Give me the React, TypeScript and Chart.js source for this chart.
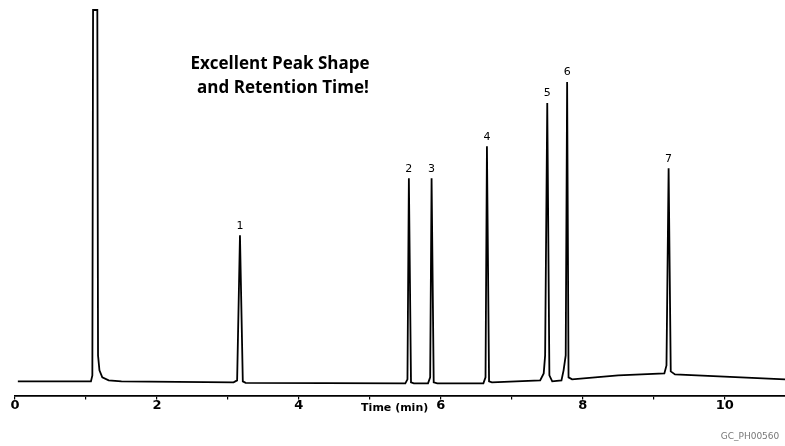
import React, { useEffect, useRef } from "react";
import { Chart, registerables } from "chart.js";

Chart.register(...registerables);

// Retention time (min) and detector signal (arbitrary units)
const times = [
  0.04, 1.07, 1.09, 1.1, 1.16, 1.17, 1.19, 1.23, 1.32, 1.5,
  3.08, 3.13, 3.17, 3.21, 3.25,
  5.5, 5.53, 5.55, 5.58, 5.62,
  5.82, 5.85, 5.87, 5.9, 5.95,
  6.6, 6.63, 6.65, 6.68, 6.72,
  7.4, 7.45, 7.47, 7.5, 7.53, 7.57,
  7.7, 7.73, 7.76, 7.78, 7.8, 7.85,
  8.5, 9.15, 9.18, 9.21, 9.24, 9.3, 10.85,
];
const signal = [
  14, 14, 20, 385, 385, 40, 25, 18, 15, 14,
  13, 15, 160, 14, 12.5,
  12, 16, 217, 13, 12,
  12, 18, 217, 13, 12,
  12, 18, 249, 14, 13,
  15, 22, 40, 292, 20, 14,
  15, 25, 40, 313, 18, 16,
  20, 22, 30, 227, 24, 21, 16,
];

const peakLabels = ["1", "2", "3", "4", "5", "6", "7"];
const peakTimes = [3.17, 5.55, 5.87, 6.65, 7.5, 7.78, 9.21];

const xTickValues = [0, 1, 2, 3, 4, 5, 6, 7, 8, 9, 10];
const xTickLabels = ["0", "", "2", "", "4", "", "6", "", "8", "", "10"];

const titleLines = ["Excellent Peak Shape", "and Retention Time!"];
const axisTitle = "Time (min)";
const footnote = "GC_PH00560";

const annotate = {
  id: "annotate",
  afterDraw(chart: any) {
    const { ctx, scales, chartArea } = chart;
    const xs = scales.x;
    const ys = scales.y;
    ctx.save();
    ctx.fillStyle = "#000";
    ctx.textAlign = "center";
    ctx.textBaseline = "bottom";
    ctx.font = "11px 'DejaVu Sans', sans-serif";
    peakLabels.forEach((lab, i) => {
      const t = peakTimes[i];
      const idx = times.indexOf(t);
      const v = signal[idx];
      ctx.fillText(lab, xs.getPixelForValue(t), ys.getPixelForValue(v) - 4);
    });
    ctx.font = "bold 17px 'Open Sans', sans-serif";
    ctx.textBaseline = "middle";
    ctx.fillText(titleLines[0], 280, 64);
    ctx.fillText(titleLines[1], 283, 88);
    ctx.font = "bold 11px 'DejaVu Sans', sans-serif";
    ctx.fillText(axisTitle, xs.getPixelForValue(5.35), chartArea.bottom + 13);
    ctx.font = "9px 'DejaVu Sans', sans-serif";
    ctx.fillStyle = "#777";
    ctx.fillText(footnote, 750, 437);
    ctx.restore();
  },
};

export default function App() {
  const ref = useRef<HTMLCanvasElement>(null);
  useEffect(() => {
    if (!ref.current) return;
    const chart = new Chart(ref.current, {
      type: "line",
      data: {
        datasets: [
          {
            data: times.map((t, i) => ({ x: t, y: signal[i] })),
            borderColor: "#000",
            borderWidth: 1.8,
            pointRadius: 0,
            tension: 0,
            fill: false,
          },
        ],
      },
      options: {
        responsive: false,
        animation: false,
        layout: { padding: { left: 15, right: 0, top: 8, bottom: 35 } },
        plugins: { legend: { display: false }, tooltip: { enabled: false } },
        scales: {
          x: {
            type: "linear",
            min: 0,
            max: 10.85,
            afterBuildTicks: (axis: any) => {
              axis.ticks = xTickValues.map((v) => ({ value: v }));
            },
            ticks: {
              autoSkip: false,
              maxRotation: 0,
              color: "#000",
              padding: -2,
              font: { size: 13, weight: "bold", family: "'DejaVu Sans', sans-serif" },
              callback: (v: any) => {
                const i = xTickValues.indexOf(Number(v));
                return i >= 0 ? xTickLabels[i] : "";
              },
            },
            grid: { drawOnChartArea: false, tickLength: 4, color: "#000", lineWidth: 1.2 },
            border: { display: true, color: "#000", width: 1.8 },
          },
          y: {
            display: false,
            min: 0,
            max: 387,
          },
        },
      },
      plugins: [annotate],
    });
    return () => chart.destroy();
  }, []);
  return (
    <div style={{ position: "fixed", left: 0, top: 0, width: 785, height: 446, background: "#fff" }}>
      <canvas ref={ref} width={785} height={446} />
    </div>
  );
}
